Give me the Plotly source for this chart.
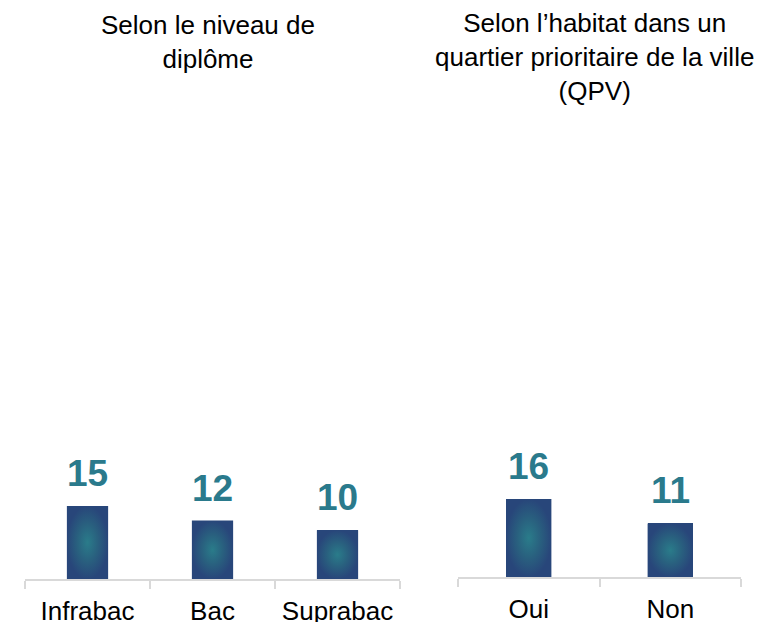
import plotly.graph_objects as go

# Data
diplome_cats = ["Infrabac", "Bac", "Suprabac"]
diplome_vals = [15, 12, 10]
qpv_cats = ["Oui", "Non"]
qpv_vals = [16, 11]

title_left = "Selon le niveau de<br>diplôme"
title_right = "Selon l’habitat dans un<br>quartier prioritaire de la ville<br>(QPV)"

FONT = "Arial, 'Liberation Sans', sans-serif"
EDGE = "#28467a"
CENTER = "#2a7c8a"
LABEL_COLOR = "#2a7a8c"
AXIS_COLOR = "#d9d9d9"

W, H = 758, 622
Y_MAX = 92.2

fig = go.Figure()


def add_panel(cats, vals, width, xa, ya, xglow):
    # solid bars on the category axis
    fig.add_trace(go.Bar(
        x=cats, y=vals, width=width,
        marker=dict(color=EDGE, line=dict(width=0)),
        xaxis=xa, yaxis=ya, showlegend=False, hoverinfo="skip",
    ))
    # radial glow drawn over each bar on a matching linear axis
    for i, v in enumerate(vals):
        x0, x1 = i - width / 2, i + width / 2
        fig.add_trace(go.Scatter(
            x=[x0, x1, x1, x0, x0], y=[0, 0, v, v, 0],
            mode="lines", line=dict(width=0), fill="toself",
            fillgradient=dict(type="radial",
                              colorscale=[[0, CENTER], [0.5, "#29617f"], [1, EDGE]]),
            xaxis=xglow, yaxis=ya, showlegend=False, hoverinfo="skip",
        ))
    # value labels above each bar
    for c, v in zip(cats, vals):
        fig.add_annotation(
            x=c, y=v, xref=xa, yref=ya, text=f"<b>{v}</b>", showarrow=False,
            yanchor="bottom", yshift=10,
            font=dict(family=FONT, size=37, color=LABEL_COLOR),
        )


add_panel(diplome_cats, diplome_vals, 0.33, "x", "y", "x3")
add_panel(qpv_cats, qpv_vals, 0.32, "x2", "y2", "x4")

axis_common = dict(
    type="category", showline=True, linecolor=AXIS_COLOR, linewidth=1.5,
    ticks="outside", tickson="boundaries", ticklen=8, tickcolor=AXIS_COLOR,
    tickwidth=1.5, showgrid=False, zeroline=False, fixedrange=True,
    ticklabelstandoff=8, automargin=False,
    tickfont=dict(family=FONT, size=26, color="#000000"),
)
left_dom = [25 / W, 400 / W]
right_dom = [458 / W, 741 / W]

fig.update_layout(
    width=W, height=H,
    margin=dict(l=0, r=0, t=0, b=0),
    paper_bgcolor="white", plot_bgcolor="white",
    barmode="overlay", bargap=0,
    xaxis=dict(domain=left_dom, range=[-0.5, len(diplome_cats) - 0.5], **axis_common),
    xaxis2=dict(domain=right_dom, range=[-0.5, len(qpv_cats) - 0.5], anchor="y2", **axis_common),
    xaxis3=dict(domain=left_dom, range=[-0.5, len(diplome_cats) - 0.5], anchor="y",
                overlaying="x", visible=False, fixedrange=True),
    xaxis4=dict(domain=right_dom, range=[-0.5, len(qpv_cats) - 0.5], anchor="y2",
                overlaying="x2", visible=False, fixedrange=True),
    yaxis=dict(domain=[43 / H, (H - 130) / H], range=[0, Y_MAX], visible=False, fixedrange=True),
    yaxis2=dict(domain=[45 / H, (H - 128) / H], range=[0, Y_MAX], visible=False,
                anchor="x2", fixedrange=True),
)

fig.add_annotation(x=208 / W, y=1, xref="paper", yref="paper", xanchor="center",
                   yanchor="top", yshift=-8, text=title_left, showarrow=False,
                   font=dict(family=FONT, size=26, color="#000000"))
fig.add_annotation(x=594 / W, y=1, xref="paper", yref="paper", xanchor="center",
                   yanchor="top", yshift=-6, text=title_right, showarrow=False,
                   font=dict(family=FONT, size=26, color="#000000"))

fig.write_html("out.html")
